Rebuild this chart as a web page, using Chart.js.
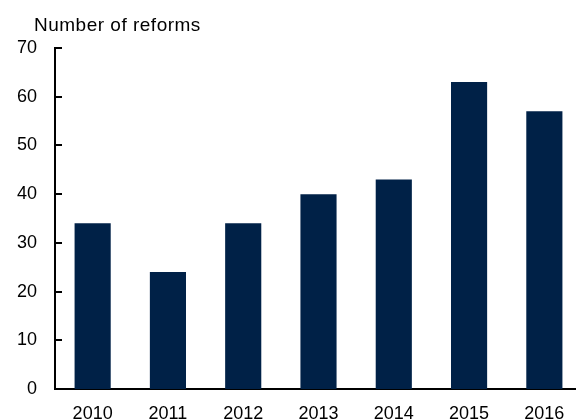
<!DOCTYPE html>
<html><head><meta charset="utf-8">
<script src="https://cdn.jsdelivr.net/npm/chart.js@4.4.0/dist/chart.umd.min.js"></script>
<style>
html,body{margin:0;padding:0;overflow:hidden;background:#fff;width:576px;height:419px;}
#wrap{position:absolute;left:0;top:0;width:582px;height:419px;}
</style></head>
<body>
<div id="wrap"><canvas id="c"></canvas></div>
<script>
const categories = ['2010','2011','2012','2013','2014','2015','2016'];
const reforms = [34, 24, 34, 40, 43, 63, 57];
const yTicks = [0,10,20,30,40,50,60,70];
const titleText = 'Number of reforms';

const FONT = '"Liberation Sans", Arial, sans-serif';

const extras = {
  id: 'extras',
  afterDraw(chart) {
    const ctx = chart.ctx;
    const y = chart.scales.y;
    const x0 = y.right;
    ctx.save();
    ctx.strokeStyle = '#000';
    ctx.lineWidth = 2;
    yTicks.forEach(v => {
      const py = Math.round(y.getPixelForValue(v));
      ctx.beginPath();
      ctx.moveTo(x0, py);
      ctx.lineTo(x0 + 7, py);
      ctx.stroke();
    });
    ctx.fillStyle = '#000';
    ctx.font = '19px ' + FONT;
    try { ctx.letterSpacing = '0.5px'; } catch (e) {}
    ctx.textBaseline = 'alphabetic';
    ctx.textAlign = 'left';
    ctx.fillText(titleText, 34, 31);
    ctx.restore();
  }
};

new Chart(document.getElementById('c'), {
  type: 'bar',
  data: {
    labels: categories,
    datasets: [{
      data: reforms,
      backgroundColor: '#002147',
      categoryPercentage: 1,
      barPercentage: 0.48
    }]
  },
  options: {
    responsive: true,
    maintainAspectRatio: false,
    animation: false,
    layout: { padding: { top: 48, left: 0, right: 0, bottom: 0 } },
    plugins: { legend: { display: false }, tooltip: { enabled: false }, title: { display: false } },
    scales: {
      x: {
        grid: { display: false, drawTicks: false },
        border: { color: '#000', width: 2 },
        ticks: { color: '#000', font: { family: FONT, size: 18 }, padding: 14, maxRotation: 0 },
        afterFit(s) { s.height = 30; }
      },
      y: {
        min: 0, max: 70,
        afterBuildTicks(s) { s.ticks = yTicks.map(v => ({ value: v })); },
        grid: { display: false, drawTicks: false },
        border: { color: '#000', width: 2 },
        ticks: { color: '#000', font: { family: FONT, size: 18 }, padding: 18 },
        afterFit(s) { s.width = 55; }
      }
    }
  },
  plugins: [extras]
});
</script>
</body></html>
